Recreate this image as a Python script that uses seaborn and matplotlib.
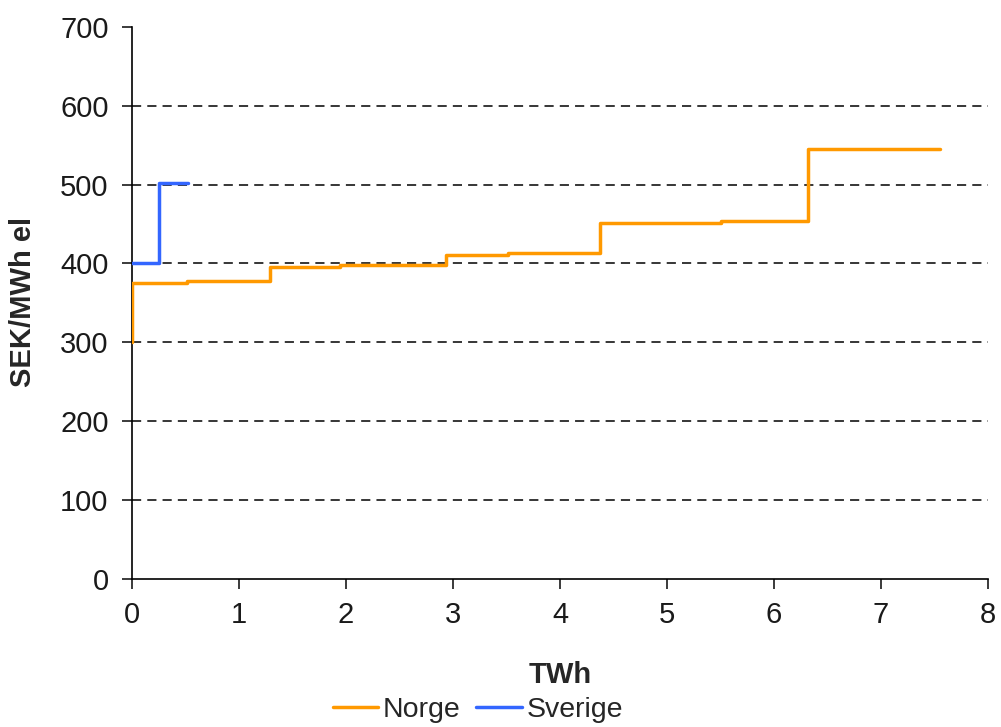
import matplotlib
matplotlib.use("Agg")
import matplotlib.pyplot as plt
import seaborn as sns
import pandas as pd

# Data
norge_x = [0, 0, 0.51, 1.29, 1.94, 2.93, 3.51, 4.37, 5.50, 6.32, 7.55]
norge_y = [300, 375, 378, 396, 398, 410, 413, 451, 454, 545, 545]
sverige_x = [0, 0.255, 0.52]
sverige_y = [400, 502, 502]
x_ticks = [0, 1, 2, 3, 4, 5, 6, 7, 8]
y_ticks = [0, 100, 200, 300, 400, 500, 600, 700]

sns.set_style("white")
plt.rcParams['font.family'] = ['Liberation Sans', 'DejaVu Sans']

df_n = pd.DataFrame({"TWh": norge_x, "SEK": norge_y, "Serie": "Norge"})
df_s = pd.DataFrame({"TWh": sverige_x, "SEK": sverige_y, "Serie": "Sverige"})

fig = plt.figure(figsize=(10.01, 7.27), dpi=100)
ax = fig.add_axes([0.132, 0.204, 0.855, 0.759])

sns.lineplot(data=df_n, x="TWh", y="SEK", ax=ax, color="#FF9900", linewidth=2.5,
             drawstyle="steps-post", sort=False, estimator=None, label="Norge", zorder=3)
sns.lineplot(data=df_s, x="TWh", y="SEK", ax=ax, color="#3366FF", linewidth=2.5,
             drawstyle="steps-post", sort=False, estimator=None, label="Sverige", zorder=3)

ax.set_xlim(0, 8)
ax.set_ylim(0, 700)
ax.set_xticks(x_ticks)
ax.set_yticks(y_ticks)

ax.yaxis.grid(True, color="black", linestyle=(0, (6, 4)), linewidth=1.1)
ax.xaxis.grid(False)
ax.get_ygridlines()[-1].set_visible(False)
ax.get_ygridlines()[0].set_visible(False)
ax.set_axisbelow(True)

for s in ["top", "right"]:
    ax.spines[s].set_visible(False)
for s in ["left", "bottom"]:
    ax.spines[s].set_color("black")
    ax.spines[s].set_linewidth(1.2)

ax.tick_params(axis="both", which="major", labelsize=21, colors="#1a1a1a",
               direction="out", length=7, width=1.2, left=True, bottom=True)
ax.tick_params(axis="x", pad=9)
ax.tick_params(axis="y", pad=10)

ax.set_xlabel("TWh", fontsize=21, fontweight="bold", va="center")
ax.xaxis.set_label_coords(0.5, -0.174)
ax.set_ylabel("SEK/MWh el", fontsize=21, fontweight="bold", va="center")
ax.yaxis.set_label_coords(-0.127, 0.502)

ax.legend_.remove()
handles, labels = ax.get_legend_handles_labels()
fig.legend(handles, labels, loc="center", bbox_to_anchor=(0.4775, 0.0234),
           ncol=2, frameon=False, fontsize=20.5, handlelength=1.6,
           handletextpad=0.17, columnspacing=0.55, borderpad=0)

fig.savefig("out.png", dpi=100)
